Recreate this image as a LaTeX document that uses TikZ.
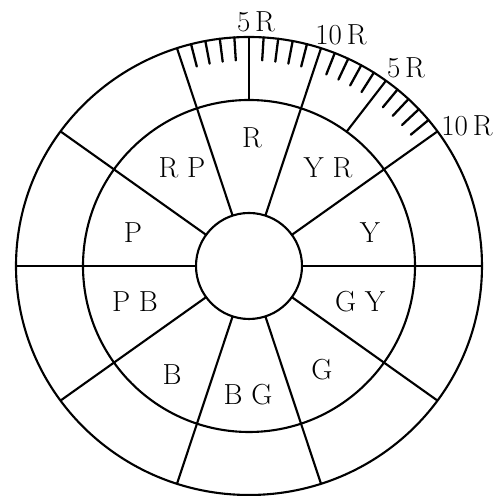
\documentclass[tikz,border=0pt]{standalone}
\usetikzlibrary{calc}
\tikzset{
  every picture/.style={line width=1.2pt, x=0.02cm, y=0.02cm},
  hue/.style={font=\fontsize{16.5}{18}\selectfont, inner sep=0pt, anchor=center},
  scalemark/.style={font=\fontsize{16.5}{18}\selectfont, inner sep=0pt},
  tickline/.style={line width=1.3pt, line cap=round},
}
\begin{document}
\begin{tikzpicture}[ring/.style={draw=black}]
  \useasboundingbox (-249,-230) rectangle (249,266);
  \draw[ring] (0,0) circle [radius=53];
  \draw[ring] (0,0) circle [radius=166];
  \draw[ring] (0,0) circle [x radius=233, y radius=229];
  \foreach \a in {0,36,...,324} \draw (\a:53) -- (\a:233 and 229);
  \foreach \a in {54,90} \draw (\a:166) -- (\a:233 and 229);
  \foreach \s in {108,72} {
    \foreach \k in {1,2,3,4,6,7,8,9}
      \draw[tickline] ({\s-3.6*\k}:233 and 229) -- ({\s-3.6*\k}:210 and 206);
  }
  \foreach \n/\x/\y/\t in {r/3/128/R, yr/79/98/Y R, y/121/33/Y, gy/111/-36/G Y, g/73/-104/G,
      bg/-1/-129/B G, b/-77/-109/B, pb/-114/-36/P B, p/-116/33/P, rp/-67/98/R P}
    \node[hue] (\n) at (\x,\y) {\t};
  \node[scalemark] (fiveA) at (7,244) {5\,R};
  \node[scalemark] (tenA) at (92,231) {10\,R};
  \node[scalemark] (fiveB) at (157,198) {5\,R};
  \node[scalemark] (tenB) at (218,140) {10\,R};
\end{tikzpicture}
\end{document}
